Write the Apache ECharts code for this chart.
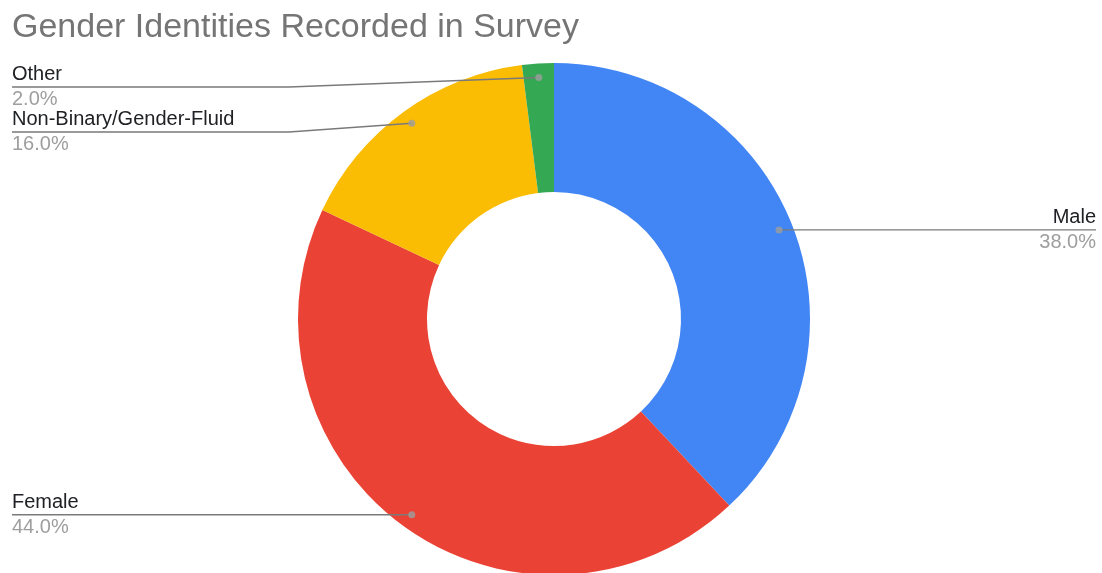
<!DOCTYPE html>
<html>
<head>
<meta charset="utf-8">
<title>Gender Identities Recorded in Survey</title>
<script src="https://cdn.jsdelivr.net/npm/echarts@6/dist/echarts.min.js"></script>
<style>
  html, body { margin: 0; padding: 0; background: #ffffff; }
  #chart { width: 1102px; height: 573px; }
</style>
</head>
<body>
<div id="chart"></div>
<script>
// ---- data ----
const chartTitle = 'Gender Identities Recorded in Survey';
const categories = ['Male', 'Female', 'Non-Binary/Gender-Fluid', 'Other'];
const shares = [38, 44, 16, 2];
const sliceColors = ['#4285F4', '#EA4335', '#FBBC04', '#34A853'];

// ---- layout ----
const FONT = '"Liberation Sans", Arial, Helvetica, sans-serif';
const WIDTH = 1102;
const CX = 554, CY = 319;          // donut centre
const R_OUT = 256, R_IN = 127;     // donut radii
const R_DOT = 242;                 // radius of the leader-line anchor dots
const EDGE_LEFT = 12, EDGE_RIGHT = 6;
const TOP_LINE = 87;               // highest allowed leader line
const STACK = 45;                  // vertical spacing of stacked labels
const ELBOW = 9;                   // elbow distance outside the donut

const total = shares.reduce((a, b) => a + b, 0);
const mids = [];
let acc = 0;
shares.forEach(v => { mids.push(acc + v / 2); acc += v; });
const onLeft = mids.map(m => m > total / 2);
// order of each label from the top of its side
const rank = mids.map((m, i) => mids.filter((o, j) =>
  j !== i && onLeft[j] === onLeft[i] && (onLeft[i] ? o > m : o < m)).length);

const chart = echarts.init(document.getElementById('chart'), null, { renderer: 'canvas' });

const labelRich = {
  n: { fontFamily: FONT, fontSize: 20, lineHeight: 25, color: '#202124' },
  p: { fontFamily: FONT, fontSize: 20, lineHeight: 25, color: '#9e9e9e' }
};

chart.setOption({
  animation: false,
  backgroundColor: '#ffffff',
  title: {
    text: chartTitle,
    left: 12,
    top: 11,
    padding: 0,
    textStyle: { fontFamily: FONT, fontSize: 34, fontWeight: 'normal', color: '#757575' }
  },
  tooltip: { show: false },
  polar: { center: [CX, CY], radius: R_OUT },
  radiusAxis: { type: 'value', min: 0, max: R_OUT, show: false },
  angleAxis: { type: 'value', min: 0, max: total, startAngle: 90, clockwise: true, show: false },
  series: [
    {
      // the donut itself
      type: 'pie',
      center: [CX, CY],
      radius: [R_IN, R_OUT],
      startAngle: 90,
      clockwise: true,
      silent: true,
      itemStyle: { borderWidth: 0 },
      label: { show: false },
      labelLine: { show: false },
      emphasis: { disabled: true },
      data: categories.map((name, i) => ({
        name: name, value: shares[i], itemStyle: { color: sliceColors[i] }
      }))
    },
    {
      // anchor dots where each leader line starts
      type: 'scatter',
      coordinateSystem: 'polar',
      silent: true,
      symbol: 'circle',
      symbolSize: 7,
      z: 10,
      itemStyle: { color: '#9e9e9e' },
      data: mids.map(m => [R_DOT, m])
    }
  ]
});

// pixel positions of the anchor dots, taken from the polar scale
const anchors = mids.map(m => chart.convertToPixel({ seriesIndex: 1 }, [R_DOT, m]));

chart.setOption({
  series: [
    {},
    {},
    {
      // invisible twin of the donut that carries the outside labels and leader lines
      type: 'pie',
      center: [CX, CY],
      radius: [0, R_DOT],
      startAngle: 90,
      clockwise: true,
      silent: true,
      z: 5,
      avoidLabelOverlap: false,
      itemStyle: { color: 'rgba(0,0,0,0)', borderWidth: 0 },
      emphasis: { disabled: true },
      data: categories.map((name, i) => ({ name: name, value: shares[i] })),
      label: {
        show: true,
        position: 'outside',
        formatter: p => '{n|' + p.name + '}\n{p|' + p.percent.toFixed(1) + '%}',
        rich: labelRich
      },
      labelLine: {
        show: true,
        length: 10,
        length2: 10,
        smooth: false,
        lineStyle: { color: '#7a7a7a', width: 1.4 }
      },
      labelLayout: function (p) {
        const i = p.dataIndex;
        const start = anchors[i];
        const left = onLeft[i];
        const y = Math.max(start[1], TOP_LINE + rank[i] * STACK);
        const ex = left ? EDGE_LEFT : WIDTH - EDGE_RIGHT;
        const bx = left ? CX - R_OUT - ELBOW : CX + R_OUT + ELBOW;
        return {
          x: ex,
          y: y,
          align: left ? 'left' : 'right',
          verticalAlign: 'middle',
          labelLinePoints: [[start[0], start[1]], [bx, y], [ex, y]]
        };
      }
    }
  ]
});
</script>
</body>
</html>
